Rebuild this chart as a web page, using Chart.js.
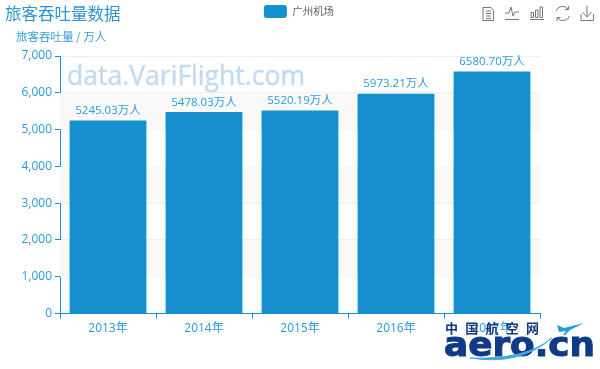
<!DOCTYPE html>
<html>
<head>
<meta charset="utf-8">
<script src="https://cdn.jsdelivr.net/npm/chart.js@4/dist/chart.umd.min.js"></script>
<style>
  html, body { margin: 0; padding: 0; background: #fff; }
  #wrap { position: relative; width: 600px; height: 369px; overflow: hidden; }
  #overlay { position: absolute; left: 0; top: 0; pointer-events: none; }
  #overlay text { font-family: "Noto Sans CJK SC", "Open Sans", sans-serif; }
</style>
</head>
<body>
<div id="wrap">
  <canvas id="airport_chart" width="600" height="369"></canvas>
  <svg id="overlay" width="600" height="369" xmlns="http://www.w3.org/2000/svg">
    <text x="5" y="20" font-size="16.5" fill="#2a96d4">旅客吞吐量数据</text>
    <text x="16" y="41" font-size="11.5" fill="#3a9cd6">旅客吞吐量 / 万人</text>
    <text x="67" y="85" font-size="28" fill="#c5daf0" stroke="#c5daf0" stroke-width="0.5" style="font-family:'Open Sans',sans-serif" textLength="238" lengthAdjust="spacingAndGlyphs">data.VariFlight.com</text>

    <!-- toolbox -->
    <g fill="none" stroke="#777" stroke-width="1">
      <path d="M483 7.5h8l2.5 3v10h-10.5z M486 11h5 M486 13.5h5 M486 16h5 M486 18.5h5"/>
      <path d="M505 19.5h14 M505 13h4l2-6 2 9 2-4h4"/>
      <path d="M530 19.5h14 M531 12.5h2.5v5h-2.5z M535.5 10h2.5v7.500h-2.500z M540 7h2.500v10.500h-2.500z"/>
      <path d="M556 11a7 7 0 0 1 12-2 M569.500 16a7 7 0 0 1-12 2 M568.500 6v3.500h-3.500 M557 21v-3.500h3.500"/>
      <path d="M581 14v6.500h12.500v-6.500 M587 6v11 M582.500 12l4.500 5 4.500-5"/>
    </g>

    <!-- aero.cn logo -->
    <text x="445" y="333" font-size="13" font-weight="700" fill="#12397f" textLength="94" lengthAdjust="spacing">中国航空网</text>
    <text x="444" y="356" font-size="34" font-weight="700" fill="#0f3a86" stroke="#0f3a86" stroke-width="1" style="font-family:'DejaVu Sans',sans-serif" textLength="151" lengthAdjust="spacingAndGlyphs">aero.cn</text>
    <path d="M470 358q50 8 82-20q-26 22-82 20z" fill="#3fa9e0" stroke="#3fa9e0" stroke-width="1"/>
    <path d="M557 325l7 3 20-5-14 7-5 5-2 0 3-4-7 1z" fill="#1a9fdc"/>
  </svg>
</div>
<script>
var categories = ['2013年', '2014年', '2015年', '2016年', '2017年'];
var passengers = [5245.03, 5478.03, 5520.19, 5973.21, 6580.70];
var y_ticks = [0, 1000, 2000, 3000, 4000, 5000, 6000, 7000];
var band_ranges = [[1000, 2000], [3000, 4000], [5000, 6000]];
var series_name = '广州机场';
var unit = '万人';

var axis_color = '#1790cf';
var text_color = '#2a9bd8';
var font_family = '"Open Sans", "Noto Sans CJK SC", sans-serif';
var top_space = 29;
var right_space = 60;

// legend sits above the reserved top space and is centred on the whole canvas
var legendPlacePlugin = {
   id: 'legendPlace',
   afterLayout: function (chart) {
      var legend = chart.legend;
      legend.top -= top_space - 1;
      legend.bottom -= top_space - 1;
      legend.left += right_space / 2 - 1;
      legend.right += right_space / 2 - 1;
   }
};

// alternating grey bands behind the bars
var bandPlugin = {
   id: 'bands',
   beforeDatasetsDraw: function (chart) {
      var area = chart.chartArea;
      var y = chart.scales.y;
      var ctx = chart.ctx;
      ctx.save();
      ctx.fillStyle = 'rgba(250,250,250,1)';
      band_ranges.forEach(function (r) {
         var top = y.getPixelForValue(r[1]);
         ctx.fillRect(area.left, top, area.right - area.left, y.getPixelForValue(r[0]) - top);
      });
      ctx.restore();
   }
};

// value labels on top of the bars
var valueLabelPlugin = {
   id: 'valueLabels',
   afterDatasetsDraw: function (chart) {
      var ctx = chart.ctx;
      ctx.save();
      ctx.font = '11.5px ' + font_family;
      ctx.fillStyle = text_color;
      ctx.textAlign = 'center';
      ctx.textBaseline = 'bottom';
      chart.getDatasetMeta(0).data.forEach(function (bar, i) {
         ctx.fillText(passengers[i].toFixed(2) + unit, bar.x, bar.y - 4);
      });
      ctx.restore();
   }
};

var ctx = document.getElementById('airport_chart').getContext('2d');
const airport_chart = new Chart(ctx, {
   type: 'bar',
   data: {
      labels: categories,
      datasets: [
         {
            label: series_name,
            data: passengers,
            backgroundColor: axis_color,
            borderWidth: 0,
            barPercentage: 0.8,
            categoryPercentage: 1
         }
      ]
   },
   options: {
      responsive: false,
      animation: false,
      layout: { padding: { left: 0, right: right_space, top: top_space, bottom: 0 } },
      plugins: {
         tooltip: { enabled: false },
         legend: {
            display: true,
            position: 'top',
            align: 'center',
            labels: {
               boxWidth: 23,
               boxHeight: 13,
               padding: 4,
               color: '#666',
               useBorderRadius: true,
               borderRadius: 3,
               font: { size: 10.5, family: '"Noto Sans CJK SC", sans-serif' }
            }
         }
      },
      scales: {
         x: {
            afterFit: function (scale) { scale.height = 55.5; },
            grid: {
               color: 'rgba(0,0,0,0)',
               tickColor: axis_color,
               tickLength: 5,
               offset: true
            },
            border: { color: axis_color },
            ticks: { color: text_color, font: { size: 12, family: font_family }, padding: 3, maxRotation: 0 }
         },
         y: {
            min: 0,
            max: 7000,
            afterFit: function (scale) { scale.width = 60; },
            afterBuildTicks: function (scale) {
               scale.ticks = y_ticks.map(function (v) { return { value: v }; });
            },
            grid: {
               color: '#eeeeee',
               tickColor: axis_color,
               tickLength: 5
            },
            border: { color: axis_color },
            ticks: {
               color: text_color,
               font: { size: 12, family: font_family },
               padding: 3,
               callback: function (v) { return v.toLocaleString('en-US'); }
            }
         }
      }
   },
   plugins: [legendPlacePlugin, bandPlugin, valueLabelPlugin]
});
</script>
</body>
</html>
